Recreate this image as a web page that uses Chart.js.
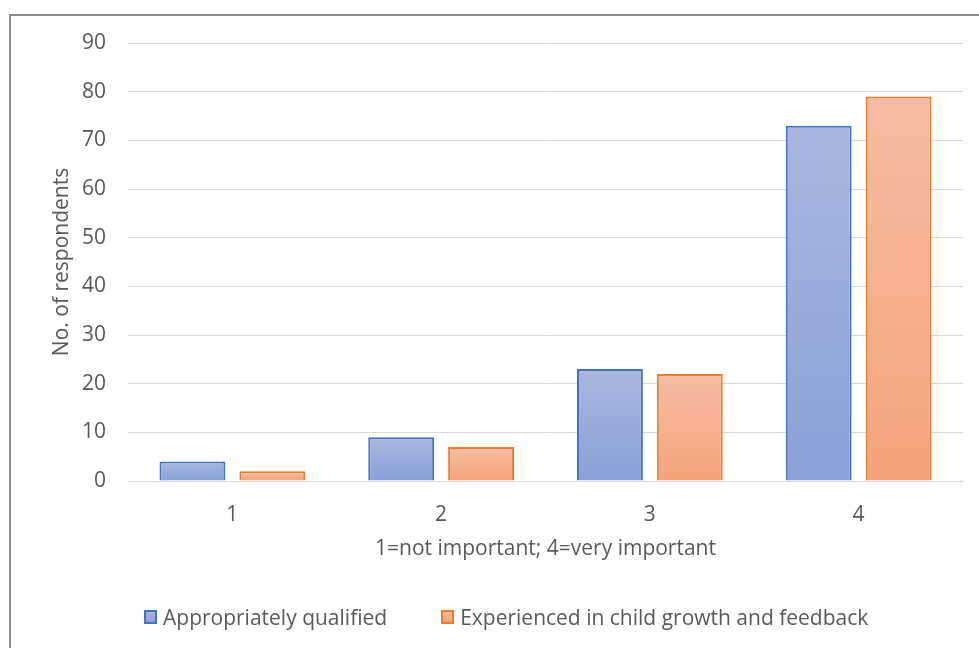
<!DOCTYPE html>
<html>
<head>
<meta charset="utf-8">
<script src="https://cdn.jsdelivr.net/npm/chart.js@4"></script>
<style>
  html, body { margin: 0; padding: 0; background: #fff; }
  #wrap { position: relative; width: 979px; height: 648px; overflow: hidden; }
  #legend {
    position: absolute; left: 144px; top: 604px;
    display: flex; gap: 54px;
    font-family: 'Open Sans', sans-serif; font-size: 21px; color: #595959;
    line-height: 26px; white-space: nowrap;
  }
  #legend .item { display: flex; align-items: center; }
  #legend .box { width: 9px; height: 10px; border: 2px solid; margin-right: 6px; }
</style>
</head>
<body>
<div id="wrap">
  <canvas id="chart" width="979" height="648"></canvas>
  <div id="legend"></div>
</div>
<script>
// Rating scale categories and respondent counts
const categories = ['1', '2', '3', '4'];
const qualified = [4, 9, 23, 73];
const experienced = [2, 7, 22, 79];
const yTicks = [0, 10, 20, 30, 40, 50, 60, 70, 80, 90];

const TEXT = '#595959';
const GRID = '#d9d9d9';
const FONT = { family: 'Open Sans', size: 21 };

const series = [
    { label: 'Appropriately qualified', data: qualified, top: '#a9b7df', bottom: '#8aa0d8', line: '#4472c4' },
    { label: 'Experienced in child growth and feedback', data: experienced, top: '#f6bda3', bottom: '#f4a47b', line: '#ed7d31' }
];

// Vertical gradient per bar, lighter at the top
function barGradient(top, bottom) {
    return (c) => {
        const chart = c.chart;
        if (!chart.chartArea || c.type !== 'data') return bottom;
        const y = chart.scales.y;
        const y0 = y.getPixelForValue(0);
        const y1 = y.getPixelForValue(c.raw);
        const g = chart.ctx.createLinearGradient(0, y1, 0, y0);
        g.addColorStop(0, top);
        g.addColorStop(1, bottom);
        return g;
    };
}

// Frame around the whole chart
const frame = {
    id: 'frame',
    beforeDraw(chart) {
        const ctx = chart.ctx;
        ctx.save();
        ctx.fillStyle = '#fff';
        ctx.fillRect(0, 0, chart.width, chart.height);
        ctx.strokeStyle = '#8c8c8c';
        ctx.lineWidth = 2;
        ctx.strokeRect(10, 15, 1000, 700);
        ctx.restore();
    }
};

new Chart(document.getElementById('chart'), {
    type: 'bar',
    data: {
        labels: categories,
        datasets: series.map(s => ({
            label: s.label,
            data: s.data,
            backgroundColor: barGradient(s.top, s.bottom),
            borderColor: s.line,
            borderWidth: 2,
            categoryPercentage: 0.765,
            barPercentage: 0.825
        }))
    },
    options: {
        responsive: false,
        animation: false,
        layout: { padding: { left: 40, right: 16, top: 43, bottom: 86 } },
        plugins: {
            legend: { display: false },
            tooltip: { enabled: false }
        },
        scales: {
            x: {
                afterFit(scale) {
                    scale.height = 81;
                },
                grid: { display: false },
                border: { color: GRID, width: 1 },
                ticks: { color: TEXT, font: FONT, padding: 13 },
                title: {
                    display: true,
                    text: '1=not important; 4=very important',
                    color: TEXT,
                    font: FONT,
                    padding: { top: 10, bottom: 0 }
                }
            },
            y: {
                min: 0,
                max: 90,
                afterBuildTicks(scale) {
                    scale.ticks = yTicks.map(v => ({ value: v }));
                },
                afterFit(scale) {
                    scale.width = 88;
                },
                grid: { color: GRID, lineWidth: 1, drawTicks: false },
                border: { display: false },
                ticks: { color: TEXT, font: FONT, padding: 22 },
                title: {
                    display: true,
                    text: 'No. of respondents',
                    color: TEXT,
                    font: FONT,
                    padding: { top: 9, bottom: 0 }
                }
            }
        }
    },
    plugins: [frame]
});

// Legend below the chart
const legend = document.getElementById('legend');
series.forEach(s => {
    const item = document.createElement('div');
    item.className = 'item';
    const box = document.createElement('span');
    box.className = 'box';
    box.style.borderColor = s.line;
    box.style.background = `linear-gradient(${s.top}, ${s.bottom})`;
    const label = document.createElement('span');
    label.textContent = s.label;
    item.appendChild(box);
    item.appendChild(label);
    legend.appendChild(item);
});
</script>
</body>
</html>
